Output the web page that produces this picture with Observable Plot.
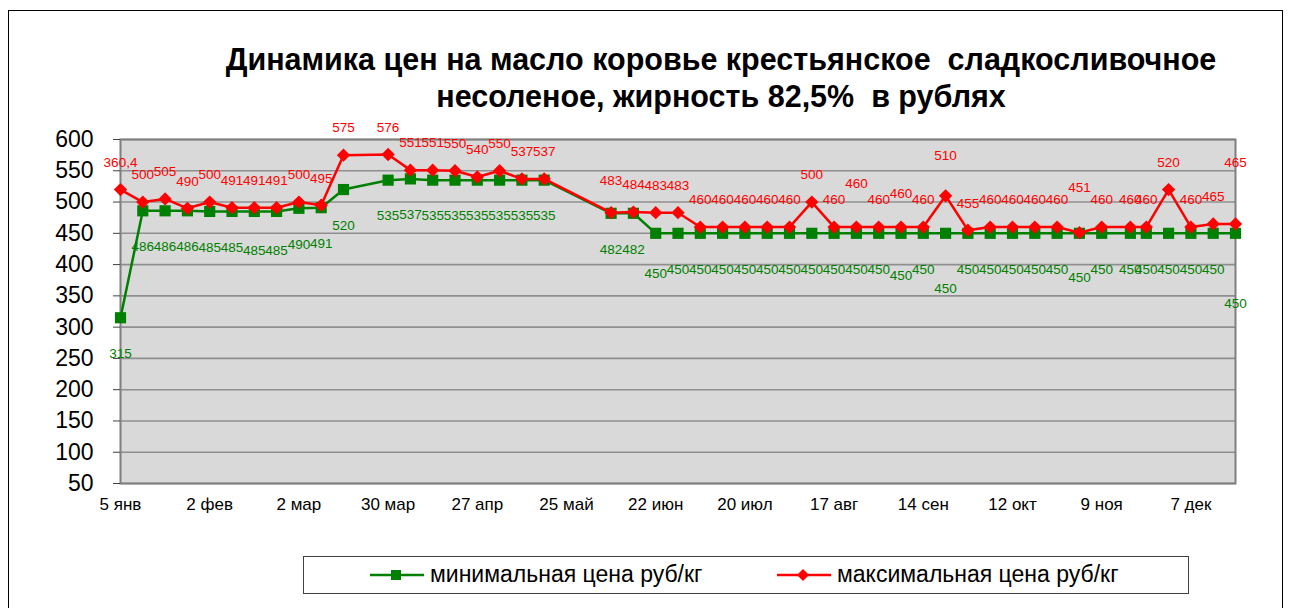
<!DOCTYPE html>
<html>
<head>
<meta charset="utf-8">
<script src="https://cdn.jsdelivr.net/npm/d3@7"></script>
<script src="https://cdn.jsdelivr.net/npm/@observablehq/plot@0.6"></script>
<style>
  html, body { margin: 0; padding: 0; background: #fff; }
  #page { position: relative; width: 1290px; height: 608px; overflow: hidden; font-family: "Liberation Sans", Arial, sans-serif; }
  #frame { position: absolute; left: 8px; top: 10px; width: 1275px; height: 640px; border: 1.5px solid #000; box-sizing: border-box; }
  #title { position: absolute; left: 152px; width: 1138px; top: 41px; text-align: center; font-weight: bold; font-size: 30.5px; line-height: 37px; color: #000; white-space: pre; }
  #chart { position: absolute; left: 0; top: 110px; }
  #legend { position: absolute; left: 303px; top: 556px; width: 886px; height: 38px; border: 1.5px solid #404040; box-sizing: border-box; background: #fff; }
  .item { position: absolute; top: 0; height: 35px; display: flex; align-items: center; font-size: 23px; color: #000; white-space: pre; }
  .item svg { margin-right: 6px; }
</style>
</head>
<body>
<div id="page">
  <div id="frame"></div>
  <div id="title"></div>
  <div id="chart"></div>
  <div id="legend"></div>
</div>
<script>
// ---- data ----
const titleLines = ["Динамика цен на масло коровье крестьянское  сладкосливочное", "несоленое, жирность 82,5%  в рублях"];
const seriesNames = ["минимальная цена руб/кг", "максимальная цена руб/кг"];
const dates = [
  "2015-01-05","2015-01-12","2015-01-19","2015-01-26",
  "2015-02-02","2015-02-09","2015-02-16","2015-02-23",
  "2015-03-02","2015-03-09","2015-03-16","2015-03-30",
  "2015-04-06","2015-04-13","2015-04-20","2015-04-27",
  "2015-05-04","2015-05-11","2015-05-18",
  "2015-06-08","2015-06-15","2015-06-22","2015-06-29",
  "2015-07-06","2015-07-13","2015-07-20","2015-07-27",
  "2015-08-03","2015-08-10","2015-08-17","2015-08-24","2015-08-31",
  "2015-09-07","2015-09-14","2015-09-21","2015-09-28",
  "2015-10-05","2015-10-12","2015-10-19","2015-10-26",
  "2015-11-02","2015-11-09","2015-11-18","2015-11-23","2015-11-30",
  "2015-12-07","2015-12-14","2015-12-21"
];
const minPrice = [
  315,486,486,486,
  485,485,485,485,
  490,491,520,535,
  537,535,535,535,
  535,535,535,
  482,482,450,450,
  450,450,450,450,
  450,450,450,450,450,
  450,450,450,450,
  450,450,450,450,
  450,450,450,450,450,
  450,450,450
];
const maxPrice = [
  520,500,505,490,
  500,491,491,491,
  500,495,575,576,
  551,551,550,540,
  550,537,537,
  483,484,483,483,
  460,460,460,460,
  460,500,460,460,460,
  460,460,510,455,
  460,460,460,460,
  451,460,460,460,520,
  460,465,465
];
const maxLabels = maxPrice.map(String);
maxLabels[0] = "360,4";
const xDomain = ["2015-01-05", "2015-12-21"];
const tickDates = ["2015-01-05","2015-02-02","2015-03-02","2015-03-30","2015-04-27","2015-05-25","2015-06-22","2015-07-20","2015-08-17","2015-09-14","2015-10-12","2015-11-09","2015-12-07"];
const monthAbbr = ["янв","фев","мар","апр","май","июн","июл","авг","сен","окт","ноя","дек"];
const yTicks = [50,100,150,200,250,300,350,400,450,500,550,600];

const GREEN = "#008000", RED = "#ff0000";

// label placement (style): default offsets plus a few labels that sit further out in the original
const redDyDefault = -27, greenDyDefault = 36;
const redDyExtra = {"2015-06-08": -32, "2015-08-24": -43, "2015-09-07": -33, "2015-09-21": -40, "2015-11-02": -45, "2015-12-21": -61};
const greenDyExtra = {"2015-02-16": 39, "2015-02-23": 39, "2015-06-22": 40, "2015-09-07": 42, "2015-09-21": 55, "2015-11-02": 44, "2015-12-21": 70};

// ---- title ----
document.getElementById("title").textContent = titleLines.join("\n");

// ---- chart ----
const data = dates.map((d, i) => ({
  key: d, date: new Date(d), min: minPrice[i], max: maxPrice[i], maxLabel: maxLabels[i],
  rdy: redDyExtra[d] ?? redDyDefault, gdy: greenDyExtra[d] ?? greenDyDefault
}));
const fmt = d => `${d.getUTCDate()} ${monthAbbr[d.getUTCMonth()]}`;

function labelMarks(field, textField, dyField, color) {
  const groups = d3.group(data, d => d[dyField]);
  return Array.from(groups, ([dy, rows]) =>
    Plot.text(rows, {x: "date", y: field, text: textField, dy, fill: color, fontSize: 13.5}));
}

const chart = Plot.plot({
  width: 1290,
  height: 420,
  marginLeft: 120,
  marginRight: 55,
  marginTop: 29,
  marginBottom: 47,
  style: {fontFamily: "'Liberation Sans', Arial, sans-serif", background: "transparent", overflow: "visible"},
  x: {type: "utc", domain: xDomain.map(d => new Date(d))},
  y: {domain: [50, 600]},
  marks: [
    Plot.frame({fill: "#d9d9d9"}),
    Plot.gridY(yTicks, {stroke: "#8f8f8f", strokeOpacity: 1, strokeWidth: 1.6}),
    Plot.frame({stroke: "#7f7f7f", strokeWidth: 2}),
    Plot.axisY(yTicks, {tickSize: 7, tickPadding: 20, fontSize: 23, stroke: "#404040", fill: "#000"}),
    Plot.axisX(tickDates.map(d => new Date(d)), {tickSize: 0, tickPadding: 14, fontSize: 17, fill: "#000", tickFormat: fmt}),
    Plot.line(data, {x: "date", y: "min", stroke: GREEN, strokeWidth: 2.5}),
    Plot.dot(data, {x: "date", y: "min", symbol: "square", fill: GREEN, stroke: "none", r: 6.3}),
    Plot.line(data, {x: "date", y: "max", stroke: RED, strokeWidth: 2.5}),
    Plot.dot(data, {x: "date", y: "max", symbol: "diamond2", fill: RED, stroke: "none", r: 6}),
    ...labelMarks("min", d => String(d.min), "gdy", GREEN),
    ...labelMarks("max", "maxLabel", "rdy", RED)
  ]
});
document.getElementById("chart").appendChild(chart);

// ---- legend ----
const legend = document.getElementById("legend");
const items = [
  {name: seriesNames[0], color: GREEN, left: 66, marker: '<rect x="21" y="4" width="10" height="10"/>'},
  {name: seriesNames[1], color: RED, left: 473, marker: '<path d="M26 3 L32 9 L26 15 L20 9 Z"/>'}
];
for (const it of items) {
  const el = document.createElement("div");
  el.className = "item";
  el.style.left = it.left + "px";
  el.innerHTML = `<svg width="54" height="18"><line x1="0" x2="54" y1="9" y2="9" stroke="${it.color}" stroke-width="2.5"/><g fill="${it.color}">${it.marker}</g></svg><span>${it.name}</span>`;
  legend.appendChild(el);
}
</script>
</body>
</html>
